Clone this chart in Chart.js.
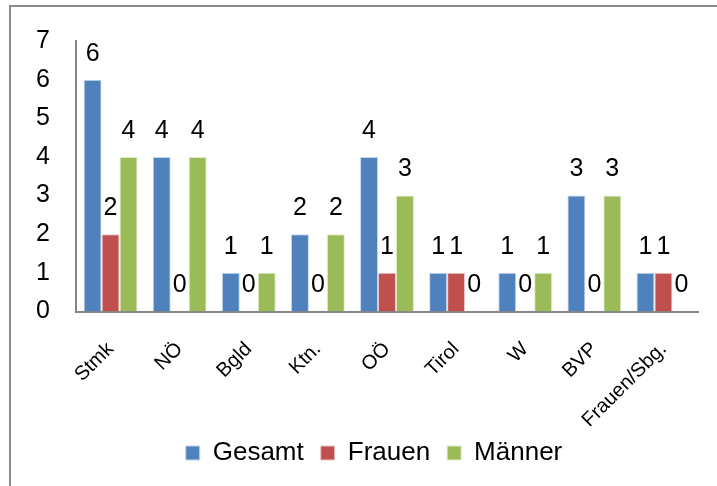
<!DOCTYPE html>
<html>
<head>
<meta charset="utf-8">
<script src="https://cdn.jsdelivr.net/npm/chart.js@4"></script>
<style>
  html, body { margin: 0; padding: 0; background: #fff; }
  #wrap { position: relative; width: 717px; height: 486px; overflow: hidden; }
  #frame { position: absolute; left: 9px; top: 5px; width: 800px; height: 600px;
           border-left: 2px solid #8c8c8c; border-top: 2px solid #8c8c8c; }
  canvas { position: absolute; left: 0; top: 0; }
</style>
</head>
<body>
<div id="wrap">
  <div id="frame"></div>
  <canvas id="c" width="717" height="486"></canvas>
</div>
<script>
const categories = ["Stmk", "NÖ", "Bgld", "Ktn.", "OÖ", "Tirol", "W", "BVP", "Frauen/Sbg."];
const gesamt = [6, 4, 1, 2, 4, 1, 1, 3, 1];
const frauen = [2, 0, 0, 0, 1, 1, 0, 0, 1];
const maenner = [4, 4, 1, 2, 3, 0, 1, 3, 0];
const yTicks = [0, 1, 2, 3, 4, 5, 6, 7];

const FONT = "'Liberation Sans', Arial, sans-serif";

const valueLabels = {
  id: 'valueLabels',
  afterDatasetsDraw(chart) {
    const ctx = chart.ctx;
    ctx.save();
    ctx.font = "25px " + FONT;
    ctx.fillStyle = "#000";
    ctx.textAlign = "center";
    ctx.textBaseline = "middle";
    chart.data.datasets.forEach((ds, i) => {
      const meta = chart.getDatasetMeta(i);
      meta.data.forEach((bar, j) => {
        ctx.fillText(String(ds.data[j]), bar.x, bar.y - 26);
      });
    });
    ctx.restore();
  }
};

const legendShift = {
  id: 'legendShift',
  afterLayout(chart) {
    const lg = chart.legend;
    if (lg) { lg.left += 15; lg.right += 15; lg.top -= 10; lg.bottom -= 10; }
  }
};

new Chart(document.getElementById('c'), {
  type: 'bar',
  data: {
    labels: categories,
    datasets: [
      { label: 'Gesamt', data: gesamt, backgroundColor: '#4F81BD', borderColor: '#c6d6ea', borderWidth: 1 },
      { label: 'Frauen', data: frauen, backgroundColor: '#C0504D', borderColor: '#ecc9c8', borderWidth: 1 },
      { label: 'Männer', data: maenner, backgroundColor: '#9BBB59', borderColor: '#e0ebcb', borderWidth: 1 }
    ]
  },
  options: {
    responsive: false,
    animation: false,
    devicePixelRatio: 1,
    layout: { padding: { left: 20, top: 41, right: 19, bottom: 0 } },
    datasets: { bar: { categoryPercentage: 0.78, barPercentage: 1.0 } },
    plugins: {
      tooltip: { enabled: false },
      legend: {
        position: 'bottom',
        labels: {
          font: { family: FONT, size: 26 },
          color: '#000',
          boxWidth: 14,
          boxHeight: 14,
          padding: 17,
          useBorderRadius: false
        }
      }
    },
    scales: {
      x: {
        grid: { display: false, drawTicks: false },
        border: { display: true, color: '#868686', width: 2 },
        ticks: {
          color: '#000',
          font: { family: FONT, size: 20 },
          minRotation: 45,
          maxRotation: 45,
          padding: 26,
          autoSkip: false
        },
        afterFit(scale) { scale.height = 121.5; }
      },
      y: {
        min: 0,
        max: 7,
        grid: { display: false, drawTicks: false },
        border: { display: true, color: '#868686', width: 2 },
        afterBuildTicks(scale) { scale.ticks = yTicks.map(v => ({ value: v })); },
        ticks: {
          color: '#000',
          font: { family: FONT, size: 25 },
          padding: 26,
          stepSize: 1,
          autoSkip: false
        },
        afterFit(scale) { scale.width = 56; }
      }
    }
  },
  plugins: [valueLabels, legendShift]
});
</script>
</body>
</html>
